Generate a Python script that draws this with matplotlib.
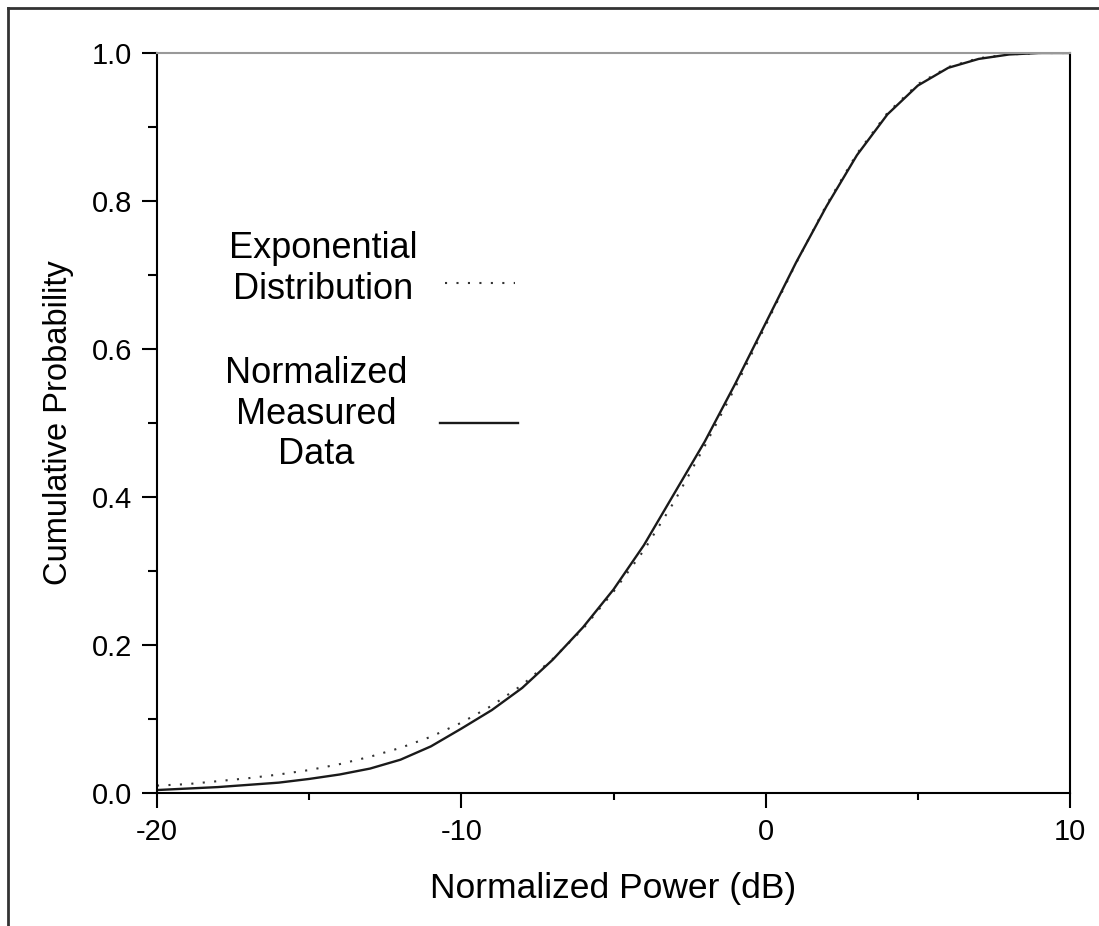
import matplotlib
matplotlib.use("Agg")
import matplotlib.pyplot as plt
from matplotlib.lines import Line2D
from matplotlib.ticker import MultipleLocator

plt.rcParams['font.family'] = ['Liberation Sans', 'DejaVu Sans']

# Values
power_db = [-20, -19, -18, -17, -16, -15, -14, -13, -12, -11, -10, -9, -8, -7, -6,
            -5, -4, -3, -2, -1, 0, 1, 2, 3, 4, 5, 6, 7, 8, 9, 10]
exponential_cdf = [0.010, 0.012, 0.016, 0.020, 0.025, 0.031, 0.039, 0.049, 0.061, 0.076,
                   0.095, 0.118, 0.146, 0.181, 0.222, 0.272, 0.328, 0.394, 0.469, 0.548,
                   0.632, 0.716, 0.795, 0.864, 0.919, 0.958, 0.981, 0.993, 0.998, 1.0, 1.0]
measured_cdf = [0.004, 0.006, 0.008, 0.011, 0.014, 0.019, 0.025, 0.033, 0.045, 0.063,
                0.087, 0.112, 0.142, 0.180, 0.224, 0.275, 0.335, 0.405, 0.475, 0.553,
                0.635, 0.717, 0.793, 0.862, 0.917, 0.956, 0.980, 0.992, 0.998, 1.0, 1.0]
x_ticks = [-20, -10, 0, 10]
y_ticks = [0.0, 0.2, 0.4, 0.6, 0.8, 1.0]

fig = plt.figure(figsize=(10.99, 9.26), dpi=100)
ax = fig.add_axes([157/1099, 1 - 793/926, 913/1099, 740/926])

dot_style = (0, (1, 4.5))
ax.plot(power_db, exponential_cdf, color='#333333', lw=1.5, linestyle=dot_style)
ax.plot(power_db, measured_cdf, color='#1a1a1a', lw=1.7)

ax.set_xlim(-20, 10)
ax.set_ylim(0, 1)
ax.set_xticks(x_ticks)
ax.set_xticklabels([f"{v:d}" for v in x_ticks])
ax.set_yticks(y_ticks)
ax.set_yticklabels([f"{v:.1f}" for v in y_ticks])
ax.xaxis.set_minor_locator(MultipleLocator(5))
ax.yaxis.set_minor_locator(MultipleLocator(0.1))

ax.tick_params(axis='both', which='major', direction='out', length=11, width=1.5,
               labelsize=21, pad=7, colors='black')
ax.tick_params(axis='x', which='minor', direction='out', length=5, width=1.5)
ax.tick_params(axis='y', which='minor', direction='out', length=6.5, width=1.5)

for side in ['left', 'bottom', 'right']:
    ax.spines[side].set_linewidth(1.5)
    ax.spines[side].set_color('black')
ax.spines['top'].set_color('#999999')
ax.spines['top'].set_linewidth(1.5)

ax.set_xlabel('Normalized Power (dB)', fontsize=25.5, labelpad=19)
ax.set_ylabel('Cumulative Probability', fontsize=23.5, labelpad=13)

# In-plot legend
ax.text(0.182, 0.708, 'Exponential\nDistribution', transform=ax.transAxes,
        ha='center', va='center', fontsize=26, linespacing=1.2)
ax.add_line(Line2D([0.3154, 0.392], [0.689, 0.689], transform=ax.transAxes,
                   color='#333333', lw=1.5, linestyle=dot_style))
ax.text(0.174, 0.512, 'Normalized\nMeasured\nData', transform=ax.transAxes,
        ha='center', va='center', fontsize=26, linespacing=1.2)
ax.add_line(Line2D([0.310, 0.395], [0.50, 0.50], transform=ax.transAxes,
                   color='#1a1a1a', lw=1.7))

# Outer frame (left and top edges)
fig.add_artist(Line2D([8/1099, 8/1099], [0, 1 - 8/926], transform=fig.transFigure,
                      color='#333333', lw=2))
fig.add_artist(Line2D([8/1099, 1], [1 - 8/926, 1 - 8/926], transform=fig.transFigure,
                      color='#333333', lw=2))

fig.savefig('out.png', dpi=100)
